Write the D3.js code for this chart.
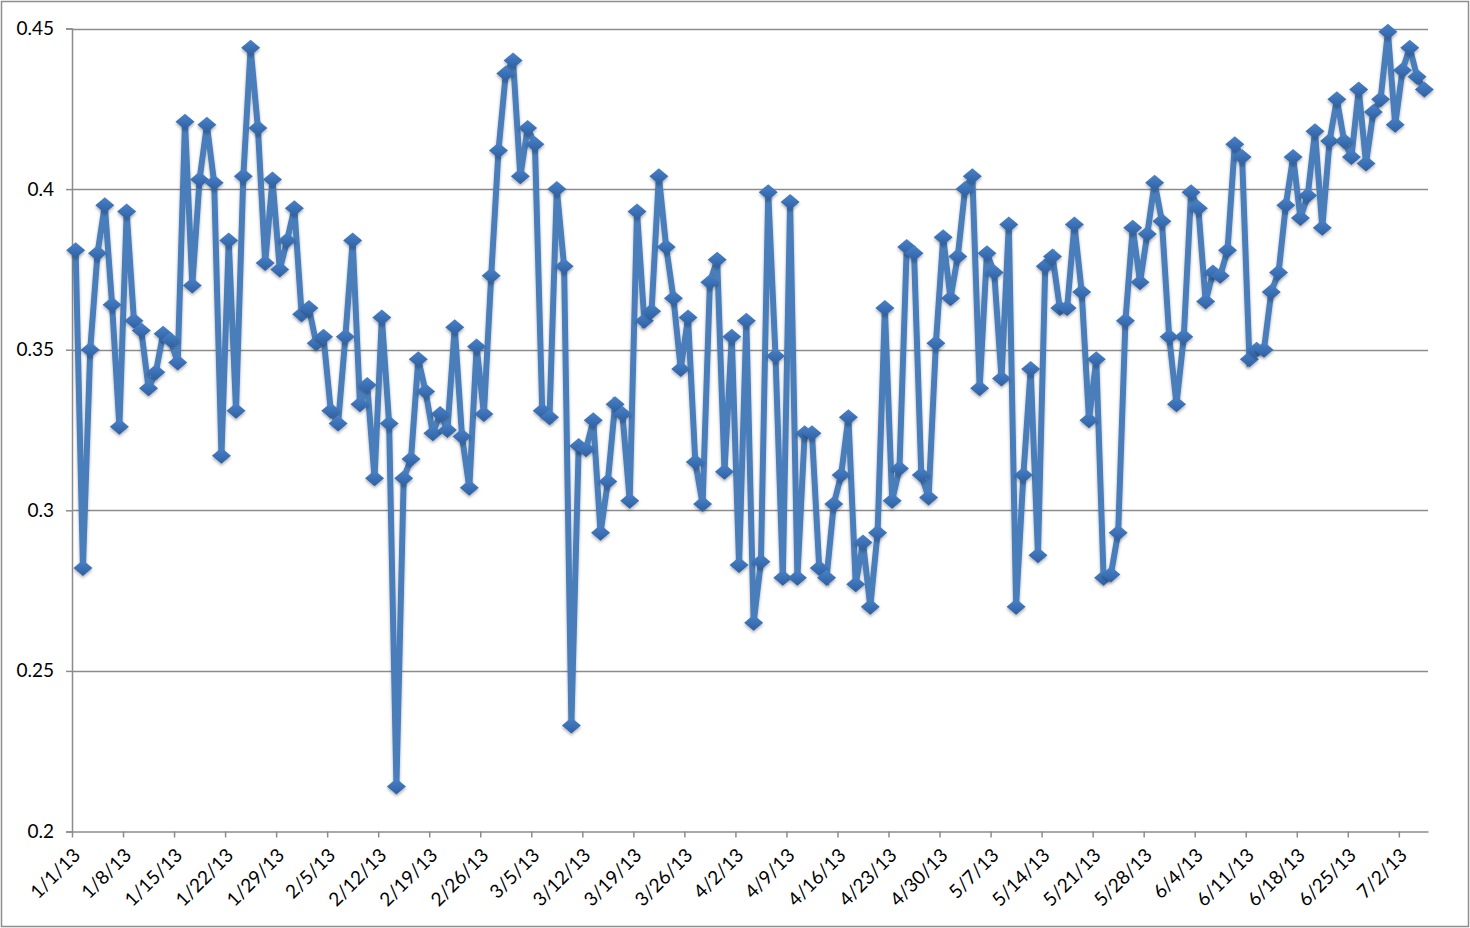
<!DOCTYPE html>
<html><head><meta charset="utf-8">
<script src="https://cdn.jsdelivr.net/npm/d3@7"></script>
<style>
html,body{margin:0;padding:0;background:#fff;}
svg{display:block;}
text{font-family:Lato,"Open Sans","Liberation Sans",sans-serif;fill:#000;}
</style></head><body>
<svg id="chart" width="1470" height="928"></svg>
<script>
const startDate = "2013-01-01";
const values = [
0.381,0.282,0.350,0.380,0.395,0.364,0.326,0.393,0.359,0.356,
0.338,0.343,0.355,0.353,0.346,0.421,0.370,0.403,0.420,0.402,
0.317,0.384,0.331,0.404,0.444,0.419,0.377,0.403,0.375,0.384,
0.394,0.361,0.363,0.352,0.354,0.331,0.327,0.354,0.384,0.333,
0.339,0.310,0.360,0.327,0.214,0.310,0.316,0.347,0.337,0.324,
0.330,0.325,0.357,0.323,0.307,0.351,0.330,0.373,0.412,0.436,
0.440,0.404,0.419,0.414,0.331,0.329,0.400,0.376,0.233,0.320,
0.319,0.328,0.293,0.309,0.333,0.330,0.303,0.393,0.359,0.362,
0.404,0.382,0.366,0.344,0.360,0.315,0.302,0.371,0.378,0.312,
0.354,0.283,0.359,0.265,0.284,0.399,0.348,0.279,0.396,0.279,
0.324,0.324,0.282,0.279,0.302,0.311,0.329,0.277,0.290,0.270,
0.293,0.363,0.303,0.313,0.382,0.380,0.311,0.304,0.352,0.385,
0.366,0.379,0.400,0.404,0.338,0.380,0.374,0.341,0.389,0.270,
0.311,0.344,0.286,0.376,0.379,0.363,0.363,0.389,0.368,0.328,
0.347,0.279,0.280,0.293,0.359,0.388,0.371,0.386,0.402,0.390,
0.354,0.333,0.354,0.399,0.394,0.365,0.374,0.373,0.381,0.414,
0.410,0.347,0.350,0.350,0.368,0.374,0.395,0.410,0.391,0.398,
0.418,0.388,0.415,0.428,0.415,0.410,0.431,0.408,0.424,0.428,
0.449,0.420,0.437,0.444,0.435,0.431
];
const yTicks = [0.2, 0.25, 0.3, 0.35, 0.4, 0.45];
const yTickLabels = ["0.2", "0.25", "0.3", "0.35", "0.4", "0.45"];
const tickEveryDays = 7;

const parse = d3.timeParse("%Y-%m-%d");
const t0 = parse(startDate);
const dates = values.map((v, i) => d3.timeDay.offset(t0, i));
const data = values.map((v, i) => ({date: dates[i], value: v}));

const svg = d3.select("#chart");
const W = 1470, H = 928;
const m = {left: 72, right: 1428, top: 28.5, bottom: 831.5};

// outer border
svg.append("rect").attr("x", 1.5).attr("y", 1.5).attr("width", W - 3).attr("height", H - 3)
  .attr("fill", "#fff").attr("stroke", "#8e8e8e").attr("stroke-width", 1.5);

const x = d3.scaleTime()
  .domain([t0, d3.timeDay.offset(t0, values.length)])
  .range([m.left, m.right]);
const y = d3.scaleLinear().domain([0.2, 0.45]).range([m.bottom, m.top]);
const half = (x(d3.timeDay.offset(t0, 1)) - x(t0)) / 2;

// gridlines
svg.append("g").selectAll("line").data(yTicks.filter(v => v > 0.2)).join("line")
  .attr("x1", m.left).attr("x2", m.right)
  .attr("y1", d => Math.round(y(d)) + 0.5).attr("y2", d => Math.round(y(d)) + 0.5)
  .attr("stroke", "#8c8c8c").attr("stroke-width", 1.3);

// y axis
const yAxis = d3.axisLeft(y).tickValues(yTicks).tickSize(6).tickPadding(12)
  .tickFormat((d, i) => yTickLabels[i]);
const gy = svg.append("g").attr("transform", `translate(${m.left},0)`).call(yAxis);
gy.select(".domain").attr("stroke", "#8c8c8c").attr("stroke-width", 1.5);
gy.selectAll(".tick line").attr("stroke", "#8c8c8c").attr("stroke-width", 1.5);
gy.selectAll(".tick text").attr("font-size", 19).attr("fill", "#000")
  .style("font-family", "Lato, 'Open Sans', sans-serif");

// x axis
const xTickDates = d3.range(0, values.length, tickEveryDays).map(k => d3.timeDay.offset(t0, k));
const fmt = d3.timeFormat("%-m/%-d/%y");
const xAxis = d3.axisBottom(x).tickValues(xTickDates).tickSize(6).tickFormat(fmt).tickSizeOuter(0);
const gx = svg.append("g").attr("transform", `translate(0,${m.bottom})`).call(xAxis);
gx.select(".domain").attr("stroke", "#8c8c8c").attr("stroke-width", 1.5);
gx.selectAll(".tick line").attr("stroke", "#8c8c8c").attr("stroke-width", 1.5);
gx.selectAll(".tick text")
  .attr("font-size", 19).attr("fill", "#000")
  .style("font-family", "Lato, 'Open Sans', sans-serif")
  .attr("text-anchor", "end")
  .attr("dy", null).attr("y", null)
  .attr("transform", "translate(9,25) rotate(-45)");

// defs for marker gradient / shadow
const defs = svg.append("defs");
const grad = defs.append("linearGradient").attr("id", "dg").attr("x1", 0).attr("y1", 0).attr("x2", 0).attr("y2", 1);
grad.append("stop").attr("offset", "0%").attr("stop-color", "#4b82c8");
grad.append("stop").attr("offset", "55%").attr("stop-color", "#3a6fb4");
grad.append("stop").attr("offset", "100%").attr("stop-color", "#2f5f9e");
const flt = defs.append("filter").attr("id", "sh").attr("x", "-50%").attr("y", "-50%").attr("width", "200%").attr("height", "200%");
flt.append("feDropShadow").attr("dx", 0).attr("dy", 2).attr("stdDeviation", 1.5).attr("flood-color", "#000").attr("flood-opacity", 0.3);

// line
const line = d3.line().x(d => x(d.date) + half).y(d => y(d.value));
svg.append("path").datum(data).attr("d", line)
  .attr("fill", "none").attr("stroke", "#4a7ebb").attr("stroke-width", 6)
  .attr("stroke-linejoin", "miter").attr("stroke-miterlimit", 3)
  .attr("filter", "url(#sh)");

// diamonds
const dw = 9.5, dh = 8;
svg.append("g").selectAll("path").data(data).join("path")
  .attr("transform", d => `translate(${x(d.date) + half},${y(d.value)})`)
  .attr("d", `M0,${-dh}L${dw},0L0,${dh}L${-dw},0Z`)
  .attr("fill", "url(#dg)").attr("filter", "url(#sh)");
</script>
</body></html>
